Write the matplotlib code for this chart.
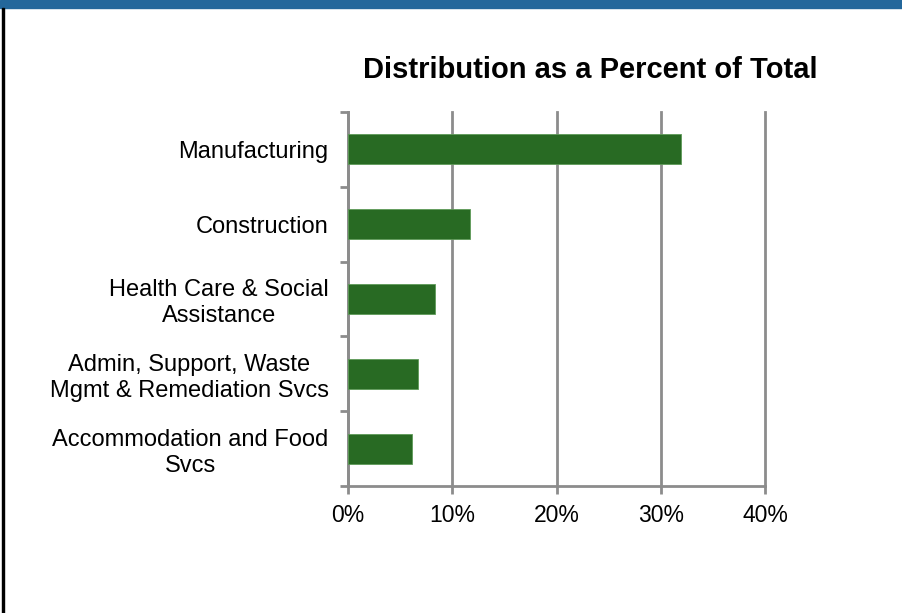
import matplotlib.pyplot as plt
from matplotlib.patches import Rectangle

plt.rcParams['font.family'] = ['Liberation Sans', 'DejaVu Sans']

# data, top to bottom
industries = ['Manufacturing', 'Construction', 'Health Care & Social\nAssistance',
              'Admin, Support, Waste\nMgmt & Remediation Svcs',
              'Accommodation and Food\nSvcs']
percents = [31.9, 11.7, 8.3, 6.7, 6.1]
xticks = [0, 10, 20, 30, 40]

grey = '#8c8c8c'
green = '#286a23'

fig = plt.figure(figsize=(9.03, 6.13), dpi=100)
fig.patches.append(Rectangle((0, 1 - 8 / 613), 1, 8 / 613, transform=fig.transFigure,
                             color='#23679b', zorder=0))
fig.patches.append(Rectangle((2 / 903, 0), 2 / 903, 1 - 8 / 613, transform=fig.transFigure,
                             color='black', zorder=0))

ax = fig.add_axes([348 / 903, 127 / 613, 417 / 903, 374 / 613])
ypos = list(range(len(industries)))
ax.barh(ypos, percents, height=0.4, color=green, edgecolor='#5e9a58', linewidth=0.6, zorder=3)
ax.set_ylim(len(industries) - 0.5, -0.5)
ax.set_xlim(0, 40)

ax.set_xticks(xticks)
ax.set_xticklabels([f'{t}%' for t in xticks], fontsize=16.5)
ax.set_yticks([y + 0.5 for y in [-1] + ypos], minor=False)
ax.set_yticklabels([])
ax.set_yticks(ypos, minor=True)
ax.set_yticklabels(industries, minor=True, fontsize=17, ha='right', multialignment='center')
ax.tick_params(axis='y', which='minor', length=0, pad=14)
ax.tick_params(axis='y', which='major', length=6, width=2, color=grey, direction='out')
ax.tick_params(axis='x', length=6, width=2, color=grey, direction='out', pad=7)

ax.grid(axis='x', color=grey, linewidth=2, zorder=0)
for line in ax.get_xgridlines():
    line.set_clip_on(False)
for s in ['top', 'right']:
    ax.spines[s].set_visible(False)
for s in ['left', 'bottom']:
    ax.spines[s].set_color(grey)
    ax.spines[s].set_linewidth(2)

fig.text(590 / 903, 1 - 70 / 613, 'Distribution as a Percent of Total', fontsize=21,
         fontweight='bold', ha='center', va='center')

fig.savefig('out.png', dpi=100)
